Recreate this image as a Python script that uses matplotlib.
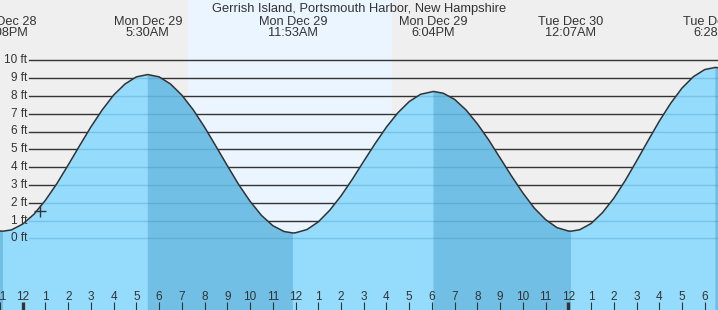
import numpy as np
import matplotlib
matplotlib.use("Agg")
import matplotlib.pyplot as plt
import matplotlib.transforms as mtransforms

plt.rcParams['font.family'] = ['Liberation Sans', 'DejaVu Sans']

# hours since Mon Dec 29 00:00, tide height in ft
tide_hours = [-1.0, -0.867, -0.5, 0.0, 0.5, 1.0, 1.5, 2.0, 2.5, 3.0, 3.5, 4.0,
              4.5, 5.0, 5.5, 6.0, 6.5, 7.0, 7.5, 8.0, 8.5, 9.0, 9.5, 10.0,
              10.5, 11.0, 11.5, 11.883, 12.0, 12.5, 13.0, 13.5, 14.0, 14.5,
              15.0, 15.5, 16.0, 16.5, 17.0, 17.5, 18.067, 18.5, 19.0, 19.5,
              20.0, 20.5, 21.0, 21.5, 22.0, 22.5, 23.0, 23.5, 24.0, 24.117,
              24.5, 25.0, 25.5, 26.0, 26.5, 27.0, 27.5, 28.0, 28.5, 29.0,
              29.5, 30.0, 30.467, 31.0]
tide_ft = [0.41, 0.40, 0.47, 0.80, 1.36, 2.14, 3.07, 4.12, 5.20, 6.26, 7.22, 8.05,
           8.67, 9.07, 9.20, 9.07, 8.67, 8.04, 7.22, 6.24, 5.17, 4.08, 3.02, 2.08,
           1.29, 0.71, 0.38, 0.30, 0.31, 0.49, 0.92, 1.57, 2.38, 3.32,
           4.33, 5.32, 6.25, 7.05, 7.68, 8.09, 8.25, 8.15, 7.80, 7.21,
           6.43, 5.52, 4.51, 3.50, 2.55, 1.70, 1.05, 0.60, 0.41, 0.40,
           0.48, 0.83, 1.44, 2.25, 3.24, 4.34, 5.47, 6.58, 7.58, 8.44,
           9.08, 9.48, 9.60, 9.52]

# high / low tides
extreme_hours = [-0.867, 5.5, 11.883, 18.067, 24.117, 30.467]
extreme_kind = ['L', 'H', 'L', 'H', 'L', 'H']
extreme_day = ['Sun Dec 28', 'Mon Dec 29', 'Mon Dec 29', 'Mon Dec 29', 'Tue Dec 30', 'Tue Dec 30']
extreme_time = ['11:08PM', '5:30AM', '11:53AM', '6:04PM', '12:07AM', '6:28AM']

sunrise, sunset = 7.25, 16.24
now_hour, now_ft = 0.74, 1.55
grid_feet = list(range(0, 11))
hour_ticks = list(range(-1, 31))
hour_labels = [str((hr - 1) % 12 + 1) for hr in hour_ticks]

title = "Gerrish Island, Portsmouth Harbor, New Hampshire"

W, H = 718, 310
txt = '#333333'

fig = plt.figure(figsize=(W / 100, H / 100), dpi=100)
ax = fig.add_axes([0, 0, 1, 1])
ax.set_xlim(-20.7 / 22.8, (W - 20.7) / 22.8)
ax.set_ylim(-(H - 238.3) / 17.8, 238.3 / 17.8)
ax.set_facecolor('#efefef')
ax.set_axisbelow(False)
for s in ax.spines.values():
    s.set_visible(False)

ax.axvspan(sunrise, sunset, color='#eaf5ff', lw=0, zorder=0)

t = np.array(tide_hours)
h = np.array(tide_ft)

# ebb (falling) = from each high to the next low
ebb = np.zeros(len(t), dtype=bool)
for i, kind in enumerate(extreme_kind):
    if kind == 'L':
        if i == 0:
            ebb |= t <= extreme_hours[i]
    else:
        nxt = extreme_hours[i + 1] if i + 1 < len(extreme_hours) else np.inf
        ebb |= (t >= extreme_hours[i]) & (t <= nxt)

x0 = 29.5 / W
for ft in grid_feet:
    ax.axhline(ft, xmin=x0, color='#333333', lw=1.0, zorder=1)

water = ax.fill_between(t, h, -20, color='#94dbfc', lw=0, zorder=2)
ax.fill_between(t, h, -20, where=ebb, color='#71bfe4', lw=0, zorder=2.1)

clip = water.get_paths()[0]
for ft in grid_feet:
    ln = ax.axhline(ft, xmin=x0, color='#1b6fa0', alpha=0.22, lw=1.0, zorder=2.2)
    ln.set_clip_path(clip, ax.transData)

ax.plot(t, h, color='#333333', lw=1.1, zorder=4)
ax.plot([now_hour], [now_ft], marker='+', ms=9, mew=1.0, color='#333333', zorder=5)

# y labels
ytr = mtransforms.blended_transform_factory(ax.transAxes, ax.transData)
for ft in grid_feet:
    ax.text(27 / W, ft, f"{ft} ft", transform=ytr, ha='right', va='center',
            fontsize=8.5, color=txt, zorder=6)

# hour ticks
ax.set_yticks([])
ax.set_xticks(hour_ticks)
ax.tick_params(axis='x', direction='in', length=6, width=0.8, color='#333333',
               labelbottom=False)
for tk, hr in zip(ax.xaxis.get_major_ticks(), hour_ticks):
    if hr % 24 == 0:
        tk.tick1line.set_markeredgewidth(2.4)

xtr = mtransforms.blended_transform_factory(ax.transData, ax.transAxes)
for hr, lab in zip(hour_ticks, hour_labels):
    ax.text(hr, 10 / H, lab, transform=xtr, ha='center', va='baseline',
            fontsize=8.5, color=txt, zorder=6)

# top labels
ax.text(0.5, 1 - 12 / H, title, transform=ax.transAxes, ha='center',
        va='baseline', fontsize=9.3, color=txt, zorder=6)
for hr, day, tm in zip(extreme_hours, extreme_day, extreme_time):
    ax.text(hr, 1 - 25 / H, day, transform=xtr, ha='center', va='baseline',
            fontsize=9.2, color=txt, zorder=6)
    ax.text(hr, 1 - 36 / H, tm, transform=xtr, ha='center', va='baseline',
            fontsize=9.2, color=txt, zorder=6)

fig.savefig('out.png', dpi=100)
